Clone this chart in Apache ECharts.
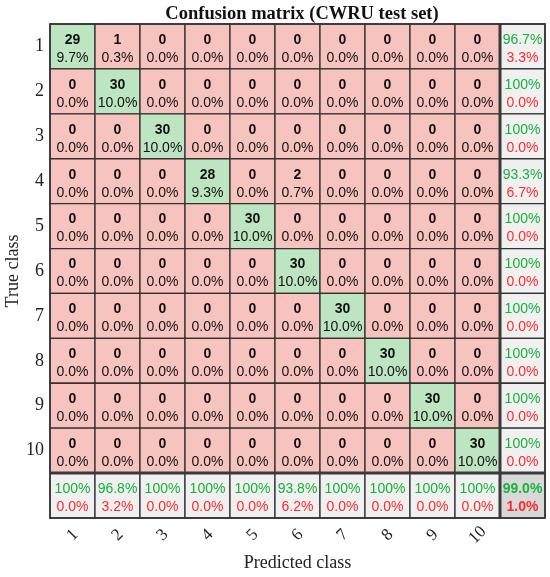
<!DOCTYPE html>
<html>
<head>
<meta charset="utf-8">
<script src="https://cdn.jsdelivr.net/npm/echarts@6/dist/echarts.min.js"></script>
<style>
  html, body { margin: 0; padding: 0; background: #fff; }
  #cm_chart { width: 550px; height: 577px; }
</style>
</head>
<body>
<div id="cm_chart"></div>
<script>
// class labels
var classes = ["1", "2", "3", "4", "5", "6", "7", "8", "9", "10"];

// confusion counts, one row per true class
var row1 = [29, 1, 0, 0, 0, 0, 0, 0, 0, 0];
var row2 = [0, 30, 0, 0, 0, 0, 0, 0, 0, 0];
var row3 = [0, 0, 30, 0, 0, 0, 0, 0, 0, 0];
var row4 = [0, 0, 0, 28, 0, 2, 0, 0, 0, 0];
var row5 = [0, 0, 0, 0, 30, 0, 0, 0, 0, 0];
var row6 = [0, 0, 0, 0, 0, 30, 0, 0, 0, 0];
var row7 = [0, 0, 0, 0, 0, 0, 30, 0, 0, 0];
var row8 = [0, 0, 0, 0, 0, 0, 0, 30, 0, 0];
var row9 = [0, 0, 0, 0, 0, 0, 0, 0, 30, 0];
var row10 = [0, 0, 0, 0, 0, 0, 0, 0, 0, 30];
var counts = [row1, row2, row3, row4, row5, row6, row7, row8, row9, row10];
var total = 300;

// summary column (per true class) and summary row (per predicted class), % correct
var rowCorrect = [96.7, 100, 100, 93.3, 100, 100, 100, 100, 100, 100];
var colCorrect = [100, 96.8, 100, 100, 100, 93.8, 100, 100, 100, 100];
var overallCorrect = 99.0;

var GREEN_BG = "#bde5c2", RED_BG = "#f7c3bf", SUM_BG = "#f0f0f0", ALL_BG = "#d8d8d8";
var GREEN_TX = "#16b23a", RED_TX = "#ff2a2a";

function fmtPct(v) { return v === 100 ? "100%" : v.toFixed(1) + "%"; }

// build cell descriptors
var cells = [];
var n = classes.length;
for (var r = 0; r < n; r++) {
  for (var c = 0; c < n; c++) {
    var v = counts[r][c];
    cells.push({ x: c, y: r, kind: r === c ? "diag" : "off",
      top: String(v), bottom: (v / total * 100).toFixed(1) + "%" });
  }
  cells.push({ x: n, y: r, kind: "sum", top: fmtPct(rowCorrect[r]), bottom: (100 - rowCorrect[r]).toFixed(1) + "%" });
}
for (var c2 = 0; c2 < n; c2++) {
  cells.push({ x: c2, y: n, kind: "sum", top: fmtPct(colCorrect[c2]), bottom: (100 - colCorrect[c2]).toFixed(1) + "%" });
}
cells.push({ x: n, y: n, kind: "all", top: fmtPct(overallCorrect), bottom: (100 - overallCorrect).toFixed(1) + "%" });

var chartDom = document.getElementById("cm_chart");
var myChart = echarts.init(chartDom);
var serif = "'Liberation Serif', 'Times New Roman', serif";
var sans = "'Liberation Sans', Arial, sans-serif";

function renderCell(params, api) {
  var cell = cells[params.dataIndex];
  var p = api.coord([api.value(0), api.value(1)]);
  var s = api.size([1, 1]);
  var fill = cell.kind === "diag" ? GREEN_BG : cell.kind === "off" ? RED_BG : cell.kind === "sum" ? SUM_BG : ALL_BG;
  var rich;
  if (cell.kind === "diag" || cell.kind === "off") {
    rich = {
      a: { fontFamily: sans, fontSize: 14, fontWeight: "bold", fill: "#111", lineHeight: 18 },
      b: { fontFamily: sans, fontSize: 14, fill: "#111", lineHeight: 18 }
    };
  } else {
    var w = cell.kind === "all" ? "bold" : "normal";
    rich = {
      a: { fontFamily: sans, fontSize: 14, fontWeight: w, fill: GREEN_TX, lineHeight: 18 },
      b: { fontFamily: sans, fontSize: 14, fontWeight: w, fill: RED_TX, lineHeight: 18 }
    };
  }
  var children = [
    { type: "rect", shape: { x: p[0] - s[0] / 2, y: p[1] - s[1] / 2, width: s[0], height: s[1] },
      style: { fill: fill, stroke: "#333", lineWidth: 1.3 } },
    { type: "text", x: p[0], y: p[1] + 2.5,
      style: { text: "{a|" + cell.top + "}\n{b|" + cell.bottom + "}", rich: rich, align: "center", verticalAlign: "middle" } }
  ];
  if (cell.kind === "all") {
    // thick separators before the summary row and column
    var tl = api.coord([0, 0]);
    var x0 = tl[0] - s[0] / 2, y0 = tl[1] - s[1] / 2;
    var x1 = p[0] + s[0] / 2, y1 = p[1] + s[1] / 2;
    var xs = p[0] - s[0] / 2, ys = p[1] - s[1] / 2;
    children.push({ type: "line", shape: { x1: x0, y1: ys, x2: x1, y2: ys }, style: { stroke: "#3a3a3a", lineWidth: 3 } });
    children.push({ type: "line", shape: { x1: xs, y1: y0, x2: xs, y2: y1 }, style: { stroke: "#3a3a3a", lineWidth: 3 } });
    children.push({ type: "rect", shape: { x: x0, y: y0, width: x1 - x0, height: y1 - y0 }, style: { fill: "none", stroke: "#333", lineWidth: 1.6 } });
  }
  return { type: "group", children: children };
}

var option = {
  animation: false,
  title: {
    text: "Confusion matrix (CWRU test set)",
    left: 297, textAlign: "center", top: 0,
    textStyle: { fontFamily: serif, fontSize: 18.5, fontWeight: "bold", color: "#111" }
  },
  grid: { left: 50, right: 5, top: 24, bottom: 59, containLabel: false, outerBoundsMode: "none" },
  xAxis: {
    type: "category",
    data: classes.concat([""]),
    name: "Predicted class", nameLocation: "middle", nameGap: 36, nameMoveOverlap: false,
    nameTextStyle: { fontFamily: serif, fontSize: 18, color: "#222" },
    axisLine: { show: false }, axisTick: { show: false }, splitLine: { show: false },
    axisLabel: { rotate: 45, margin: 17, align: "center", verticalAlign: "middle",
      fontFamily: serif, fontSize: 17, color: "#222" }
  },
  yAxis: {
    type: "category",
    inverse: true,
    data: classes.concat([""]),
    name: "True class", nameLocation: "middle", nameGap: 28, nameRotate: 90, nameMoveOverlap: false,
    nameTextStyle: { fontFamily: serif, fontSize: 18, color: "#222" },
    axisLine: { show: false }, axisTick: { show: false }, splitLine: { show: false },
    axisLabel: { margin: 6, fontFamily: serif, fontSize: 18, color: "#222" }
  },
  series: [{
    type: "custom",
    renderItem: renderCell,
    data: cells.map(function (d) { return [d.x, d.y]; })
  }]
};

option && myChart.setOption(option);
</script>
</body>
</html>
